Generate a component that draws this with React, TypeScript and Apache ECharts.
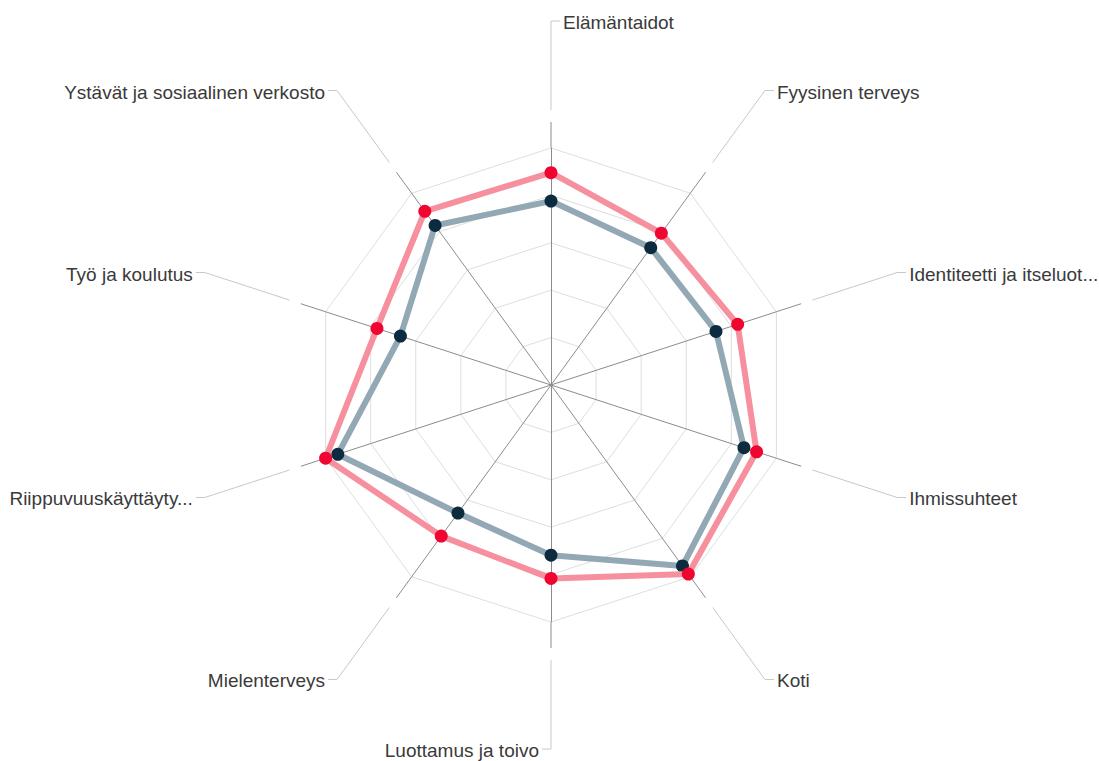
import React, { useEffect, useRef } from "react";
import * as echarts from "echarts";

// Categories in clockwise visual order, starting at the top
const categories = [
  "Elämäntaidot",
  "Fyysinen terveys",
  "Identiteetti ja itseluot...",
  "Ihmissuhteet",
  "Koti",
  "Luottamus ja toivo",
  "Mielenterveys",
  "Riippuvuuskäyttäyty...",
  "Työ ja koulutus",
  "Ystävät ja sosiaalinen verkosto",
];
const redValues = [4.48, 3.96, 4.14, 4.56, 4.93, 4.08, 3.94, 5.0, 3.86, 4.53];
const greyValues = [3.88, 3.58, 3.66, 4.28, 4.72, 3.59, 3.34, 4.73, 3.34, 4.16];
const axisMax = 5;

const CX = 551;
const CY = 385;
const R = 237;

export default function App() {
  const ref = useRef<HTMLDivElement>(null);
  useEffect(() => {
    if (!ref.current) return;
    const chart = echarts.init(ref.current, null, { renderer: "svg" });
    const n = categories.length;
    // ECharts places indicators counter-clockwise; reorder so they read clockwise
    const order = categories.map((_, j) => (n - j) % n);
    const indicator = order.map((k) => ({ name: categories[k], min: 0, max: axisMax }));
    const red = order.map((k) => redValues[k]);
    const grey = order.map((k) => greyValues[k]);

    const graphics: any[] = [];
    const font = '19px "Liberation Sans", Arial, sans-serif';
    categories.forEach((name, i) => {
      const th = (i * 2 * Math.PI) / n;
      const s = Math.sin(th);
      const c = Math.cos(th);
      const pt = (r: number) => [CX + r * s, CY - r * c];
      const [ax1, ay1] = pt(R);
      const [ax2, ay2] = pt(263);
      graphics.push({
        type: "line",
        shape: { x1: ax1, y1: ay1, x2: ax2, y2: ay2 },
        style: { stroke: "#8c8c8c", lineWidth: 1 },
        silent: true,
      });
      const [cx1, cy1] = pt(275);
      const [bx, by] = pt(364);
      const right = i === 0 ? true : i === n / 2 ? false : s > 0;
      const dir = right ? 1 : -1;
      graphics.push({
        type: "polyline",
        shape: { points: [[cx1, cy1], [bx, by], [bx + dir * 9, by]] },
        style: { stroke: "#c8c8c8", lineWidth: 1, fill: null },
        silent: true,
      });
      graphics.push({
        type: "text",
        x: bx + dir * 12,
        y: by + 1.5,
        style: {
          text: name,
          fill: "#3a3a3a",
          font,
          textAlign: right ? "left" : "right",
          textVerticalAlign: "middle",
          align: right ? "left" : "right",
          verticalAlign: "middle",
        },
        silent: true,
      });
    });

    chart.setOption({
      animation: false,
      radar: {
        center: [CX, CY],
        radius: R,
        startAngle: 90,
        splitNumber: 5,
        shape: "polygon",
        indicator,
        axisName: { show: false },
        splitArea: { show: false },
        splitLine: { lineStyle: { color: "#dedede", width: 1 } },
        axisLine: { lineStyle: { color: "#8c8c8c", width: 1 } },
        axisTick: { show: false },
        axisLabel: { show: false },
      },
      series: [
        {
          type: "radar",
          symbol: "circle",
          symbolSize: 13,
          z: 2,
          data: [
            {
              name: "grey",
              value: grey,
              lineStyle: { color: "#93a8b5", width: 6 },
              itemStyle: { color: "#0c2b3e" },
            },
          ],
        },
        {
          type: "radar",
          symbol: "circle",
          symbolSize: 13,
          z: 3,
          data: [
            {
              name: "red",
              value: red,
              lineStyle: { color: "#f7909e", width: 6 },
              itemStyle: { color: "#ef0530" },
            },
          ],
        },
      ],
      graphic: graphics,
    });
    return () => chart.dispose();
  }, []);
  return (
    <div
      ref={ref}
      style={{ position: "fixed", left: 0, top: 0, width: 1099, height: 761, background: "#ffffff" }}
    />
  );
}
